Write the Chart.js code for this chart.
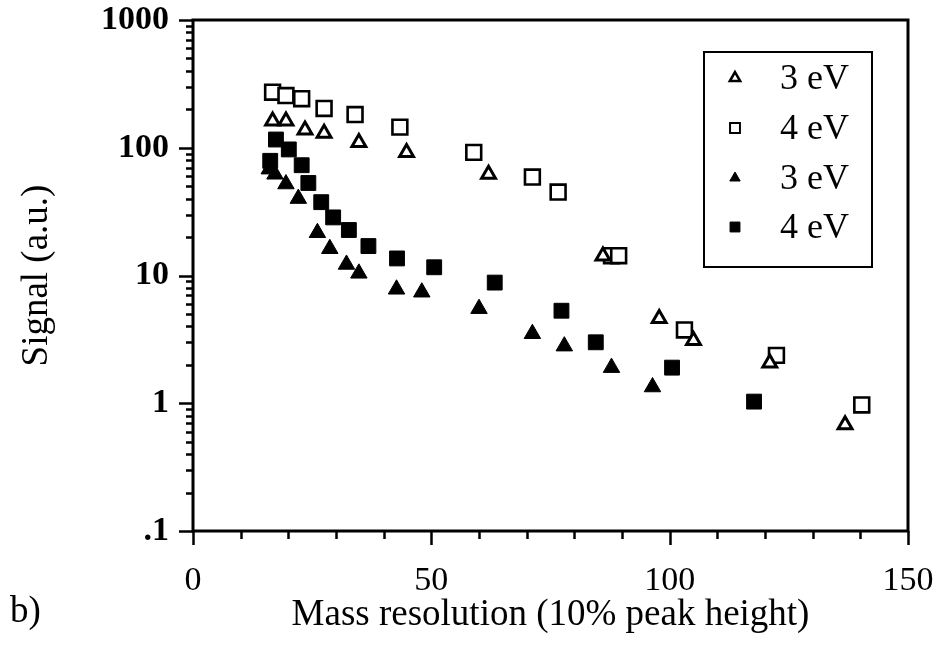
<!DOCTYPE html>
<html>
<head>
<meta charset="utf-8">
<script src="https://cdn.jsdelivr.net/npm/chart.js@4.4.0/dist/chart.umd.min.js"></script>
<style>
  html, body { margin: 0; padding: 0; background: #fff; }
  #wrap { position: relative; width: 939px; height: 648px; }
</style>
</head>
<body>
<div id="wrap"><canvas id="chart" width="939" height="648"></canvas></div>
<script>
// Series values: mass resolution (x) and signal (y)
const openTri3eVX = [16.7, 19.5, 23.5, 27.5, 34.8, 44.8, 62.0, 86.0, 97.8, 105.0, 121.0, 136.8];
const openTri3eVY = [162, 162, 138, 130, 110, 92, 62, 14.2, 4.6, 3.1, 2.07, 0.68];

const openSq4eVX = [16.7, 19.5, 22.8, 27.5, 34.0, 43.4, 58.9, 71.2, 76.6, 87.8, 89.3, 103.1, 122.4, 140.3];
const openSq4eVY = [272, 256, 242, 203, 182, 145, 92, 59, 45, 14.3, 14.3, 3.75, 2.37, 0.97];

const fillTri3eVX = [16.0, 17.2, 19.5, 22.1, 26.1, 28.7, 32.2, 34.8, 42.7, 48.0, 60.0, 71.2, 77.9, 87.8, 96.4];
const fillTri3eVY = [68, 62, 52, 40, 21.6, 16.2, 12.2, 10.4, 7.8, 7.4, 5.5, 3.5, 2.8, 1.9, 1.34];

const fillSq4eVX = [16.2, 17.4, 20.1, 22.8, 24.2, 26.9, 29.4, 32.7, 36.8, 42.8, 50.6, 63.3, 77.3, 84.5, 100.5, 117.7];
const fillSq4eVY = [79, 116, 97, 73, 53, 37.5, 28.5, 22.7, 17.0, 13.6, 11.6, 8.8, 5.3, 3.0, 1.9, 1.03];

const seriesLabels = ['3 eV', '4 eV', '3 eV', '4 eV'];

// Axis ticks
const xTickValues = [0, 10, 20, 30, 40, 50, 60, 70, 80, 90, 100, 110, 120, 130, 140, 150];
const xTickLabels = { 0: '0', 50: '50', 100: '100', 150: '150' };
const yDecades = [0.1, 1, 10, 100, 1000];
const yTickLabels = ['.1', '1', '10', '100', '1000'];

const SERIF = '"Liberation Serif", "DejaVu Serif", serif';

let toPoints = function (xs, ys) {
    return xs.map((x, i) => ({ x: x, y: ys[i] }));
};

// minor ticks 2..9 inside every decade
let yTickValues = [];
yDecades.forEach((d, i) => {
    yTickValues.push(d);
    if (i < yDecades.length - 1) {
        for (let m = 2; m <= 9; m++) yTickValues.push(+(d * m).toPrecision(3));
    }
});

let markerStyles = [
    { pointStyle: 'triangle', radius: 8, borderWidth: 3, fill: '#fff' },
    { pointStyle: 'rect', radius: 10.5, borderWidth: 2.6, fill: '#fff' },
    { pointStyle: 'triangle', radius: 9.5, borderWidth: 1, fill: '#000' },
    { pointStyle: 'rect', radius: 10.5, borderWidth: 1, fill: '#000' }
];

let seriesData = [
    toPoints(openTri3eVX, openTri3eVY),
    toPoints(openSq4eVX, openSq4eVY),
    toPoints(fillTri3eVX, fillTri3eVY),
    toPoints(fillSq4eVX, fillSq4eVY)
];

const datasets = seriesData.map((pts, i) => ({
    label: seriesLabels[i],
    data: pts,
    showLine: false,
    pointStyle: markerStyles[i].pointStyle,
    pointRadius: markerStyles[i].radius,
    pointHoverRadius: markerStyles[i].radius,
    pointBorderWidth: markerStyles[i].borderWidth,
    pointBorderColor: '#000',
    pointBackgroundColor: markerStyles[i].fill,
    clip: false
}));

// Frame, tick marks, axis titles and the boxed legend
const framePlugin = {
    id: 'framePlugin',
    afterDatasetsDraw(chart) {
        const ctx = chart.ctx;
        const area = chart.chartArea;
        const xs = chart.scales.x;
        const ys = chart.scales.y;
        ctx.save();
        ctx.strokeStyle = '#000';
        ctx.lineCap = 'butt';

        // ticks
        ctx.lineWidth = 2.5;
        ctx.beginPath();
        ys.ticks.forEach(t => {
            const py = Math.round(ys.getPixelForValue(t.value)) + 0.5;
            const len = yDecades.includes(t.value) ? 14 : 7;
            ctx.moveTo(area.left, py);
            ctx.lineTo(area.left - len, py);
        });
        xs.ticks.forEach(t => {
            const px = Math.round(xs.getPixelForValue(t.value)) + 0.5;
            const len = (t.value in xTickLabels) ? 14 : 8;
            ctx.moveTo(px, area.bottom);
            ctx.lineTo(px, area.bottom + len);
        });
        ctx.stroke();

        // box
        ctx.lineWidth = 3;
        ctx.strokeRect(area.left, area.top, area.right - area.left, area.bottom - area.top);

        // axis titles
        ctx.fillStyle = '#000';
        ctx.font = '37px ' + SERIF;
        ctx.textAlign = 'center';
        ctx.textBaseline = 'middle';
        ctx.fillText('Mass resolution (10% peak height)', (area.left + area.right) / 2, 615);
        ctx.save();
        ctx.translate(37, (area.top + area.bottom) / 2);
        ctx.rotate(-Math.PI / 2);
        ctx.fillText('Signal (a.u.)', 0, 0);
        ctx.restore();
        ctx.textAlign = 'left';
        ctx.fillText('b)', 10, 612);

        // legend
        ctx.lineWidth = 2;
        ctx.strokeRect(704, 52, 168, 215);
        const rows = [78, 128, 178, 227];
        ctx.font = '36px ' + SERIF;
        ctx.textAlign = 'left';
        chart.data.datasets.forEach((ds, i) => {
            ctx.fillStyle = ds.pointBackgroundColor;
            ctx.strokeStyle = '#000';
            ctx.lineWidth = i === 0 ? 2.5 : (i === 1 ? 2 : 1);
            Chart.helpers.drawPoint(ctx, {
                pointStyle: ds.pointStyle,
                radius: ds.pointStyle === 'rect' ? 7 : 6,
                borderWidth: ctx.lineWidth,
                rotation: 0
            }, 735, rows[i]);
            ctx.fillStyle = '#000';
            ctx.fillText(ds.label, 780, rows[i] + 2);
        });
        ctx.restore();
    }
};

new Chart(document.getElementById('chart'), {
    type: 'scatter',
    data: { datasets: datasets },
    options: {
        responsive: false,
        animation: false,
        layout: { padding: { top: 20, right: 31, left: 0, bottom: 0 } },
        plugins: {
            legend: { display: false },
            tooltip: { enabled: false }
        },
        scales: {
            x: {
                type: 'linear',
                min: 0,
                max: 150,
                grid: { display: false },
                border: { display: false },
                afterBuildTicks: function (scale) {
                    scale.ticks = xTickValues.map(v => ({ value: v }));
                },
                afterFit: function (scale) {
                    scale.height = 117;
                    scale.paddingLeft = 0;
                    scale.paddingRight = 0;
                },
                ticks: {
                    autoSkip: false,
                    maxRotation: 0,
                    color: '#000',
                    padding: 22,
                    font: { family: SERIF, size: 34 },
                    callback: function (value) {
                        return xTickLabels[value] !== undefined ? xTickLabels[value] : '';
                    }
                }
            },
            y: {
                type: 'logarithmic',
                min: 0.1,
                max: 1000,
                grid: { display: false },
                border: { display: false },
                afterBuildTicks: function (scale) {
                    scale.ticks = yTickValues.map(v => ({ value: v }));
                },
                afterFit: function (scale) {
                    scale.width = 193;
                    scale.paddingTop = 0;
                    scale.paddingBottom = 0;
                },
                ticks: {
                    autoSkip: false,
                    color: '#000',
                    padding: 16,
                    font: { family: SERIF, size: 34, weight: 'bold' },
                    callback: function (value) {
                        const k = yDecades.indexOf(value);
                        return k >= 0 ? yTickLabels[k] : '';
                    }
                }
            }
        }
    },
    plugins: [framePlugin]
});
</script>
</body>
</html>
